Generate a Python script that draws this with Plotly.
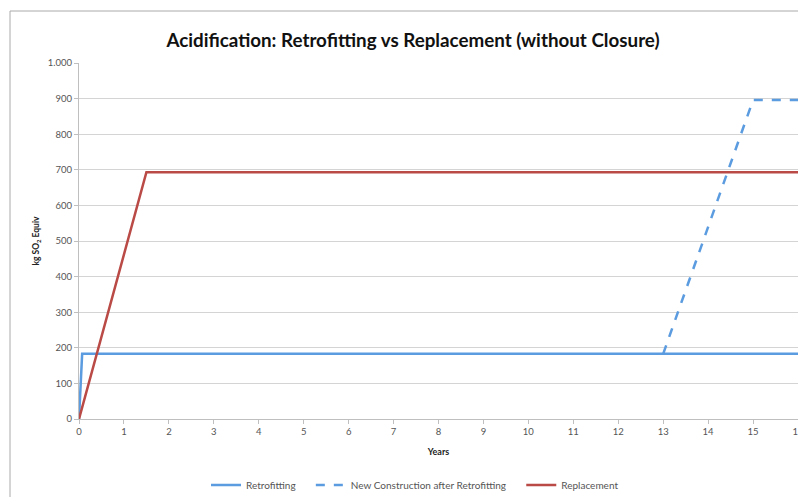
import plotly.graph_objects as go

# Data
retro_x = [0, 0.07, 16]
retro_y = [0, 183, 183]
newc_x = [13, 15, 16]
newc_y = [183, 896, 896]
repl_x = [0, 1.5, 16]
repl_y = [0, 693, 693]
x_ticks = list(range(0, 17))
y_ticks = list(range(0, 1001, 100))
names = ["Retrofitting", "New Construction after Retrofitting", "Replacement"]

BLUE = "#5B9BDF"
RED = "#B94A46"
GRID = "#D4D4D4"
AXIS = "#BFBFBF"
TXT = "#555555"

W, H = 798, 489  # page body has an 8px margin
PAD = "\u00a0" * 4

fig = go.Figure()
fig.add_trace(go.Scatter(x=retro_x, y=retro_y, mode="lines", name=names[0] + PAD,
                         line=dict(color=BLUE, width=2.5)))
fig.add_trace(go.Scatter(x=newc_x, y=newc_y, mode="lines", name=names[1] + PAD,
                         line=dict(color=BLUE, width=2.5, dash="dash")))
fig.add_trace(go.Scatter(x=repl_x, y=repl_y, mode="lines", name=names[2],
                         line=dict(color=RED, width=2.5)))

fig.update_layout(
    width=W, height=H,
    paper_bgcolor="white", plot_bgcolor="white",
    margin=dict(l=71, r=8, t=55, b=78, autoexpand=False),
    separators=",.",
    font=dict(family="Lato, Open Sans, sans-serif", size=9, color=TXT),
    title=dict(text="<b>Acidification: Retrofitting vs Replacement (without Closure)</b>",
               x=405 / W, xanchor="center", xref="container", y=1 - 32 / H, yanchor="middle",
               yref="container",
               font=dict(family="Lato, Open Sans, sans-serif", size=18.8, color="#111111")),
    xaxis=dict(range=[0, 16], tickvals=x_ticks, showgrid=False, zeroline=False, automargin=False,
               showline=True, linecolor=AXIS, linewidth=1, ticks="outside",
               ticklen=4, tickcolor=AXIS, tickfont=dict(size=9.5, color=TXT),
               ticklabeloverflow="allow",
               title=dict(text="<b>Years</b>", font=dict(size=9, color="#222222"), standoff=12)),
    yaxis=dict(range=[0, 1000], tickvals=y_ticks, tickformat=",d", showgrid=True, automargin=False,
               gridcolor=GRID, gridwidth=1, zeroline=False,
               showline=True, linecolor=AXIS, linewidth=1, ticks="outside",
               ticklen=4, tickcolor=AXIS, tickfont=dict(size=9.5, color=TXT),
               title=dict(text="<b>kg SO<sub>2</sub> Equiv</b>", font=dict(size=8.5, color="#222222"), standoff=6)),
    legend=dict(orientation="h", x=(415 - 79) / 719, xanchor="center", y=-(485 - 419) / 356, yanchor="middle",
                font=dict(size=10, color=TXT), itemwidth=30, tracegroupgap=0),
    showlegend=True,
)

fig.add_shape(type="rect", xref="paper", yref="paper",
              x0=-69 / 719, x1=1.05, y0=-0.3, y1=1 + 52 / 356,
              line=dict(color="#AAAAAA", width=1), fillcolor="rgba(0,0,0,0)", layer="below")

fig.write_html("out.html")
